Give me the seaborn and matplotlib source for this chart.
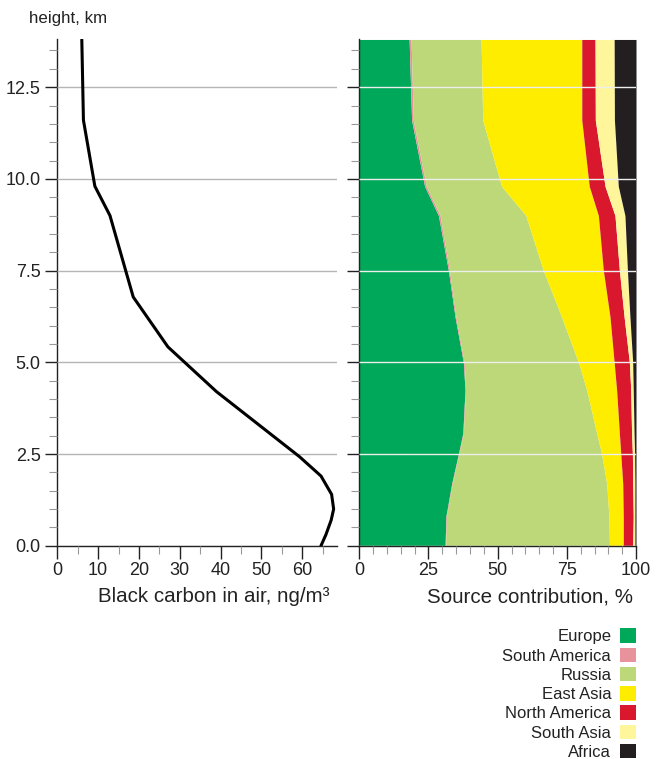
"""Black carbon vertical profile and source contributions by height."""

import matplotlib.pyplot as plt
import numpy as np
import pandas as pd
import seaborn as sns
from matplotlib.patches import Patch
from matplotlib.ticker import MultipleLocator

# Black carbon profile (left panel)
BC_HEIGHT = [0.0, 0.3, 0.7, 1.0, 1.4, 1.9, 2.43, 4.2, 5.42, 6.78, 9.0, 9.8,
             11.6, 13.8]
BC_VALUE = [64.6, 65.8, 67.1, 67.7, 67.2, 64.6, 59.3, 39.0, 27.1, 18.6, 12.9,
            9.2, 6.4, 6.0]

# Source contributions, % (right panel)
SRC_HEIGHT = [0.0, 0.8, 1.7, 2.5, 3.06, 4.24, 5.0, 6.24, 7.5, 9.0, 9.8, 11.6, 13.8]
EUROPE = [31.0, 31.3, 33.4, 35.8, 37.4, 38.2, 37.6, 34.6, 32.2, 28.6, 23.6, 18.9, 18.0]
SOUTH_AMERICA = [0.2, 0.2, 0.2, 0.2, 0.2, 0.2, 0.3, 0.3, 0.4, 0.6, 0.6, 0.6, 0.7]
RUSSIA = [59.2, 58.7, 55.8, 51.6, 48.2, 43.8, 41.3, 38.2, 33.9, 31.0, 27.2, 25.1, 25.3]
EAST_ASIA = [5.0, 5.2, 5.8, 6.9, 8.2, 10.8, 12.9, 17.5, 21.7, 26.2, 31.7, 35.8, 36.4]
NORTH_AMERICA = [3.4, 3.6, 3.6, 4.2, 4.4, 5.1, 5.5, 5.1, 5.8, 6.0, 5.7, 4.9, 4.8]
SOUTH_ASIA = [0.8, 0.6, 0.8, 0.8, 0.9, 0.9, 1.2, 2.1, 2.9, 3.6, 4.8, 6.9, 6.9]
AFRICA = [0.4, 0.4, 0.4, 0.5, 0.7, 1.0, 1.2, 2.2, 3.1, 4.0, 6.4, 7.8, 7.9]

SOURCES = ["Europe", "South America", "Russia", "East Asia",
           "North America", "South Asia", "Africa"]
COLORS = {
    "Europe": "#00a859",
    "South America": "#e8939b",
    "Russia": "#bcd878",
    "East Asia": "#ffed00",
    "North America": "#d9182d",
    "South Asia": "#fff59a",
    "Africa": "#231f20",
}

sns.set_style("ticks")
plt.rcParams["font.family"] = ["Liberation Sans", "DejaVu Sans"]

fig = plt.figure(figsize=(6.61, 7.59), dpi=100)
ax1 = fig.add_axes([0.0867, 0.281, 0.423, 0.667])
ax2 = fig.add_axes([0.5436, 0.281, 0.4186, 0.667])

profile = pd.DataFrame({"height": BC_HEIGHT, "bc": BC_VALUE})
sns.lineplot(data=profile, x="bc", y="height", orient="y", sort=False,
             color="black", linewidth=2.2, ax=ax1, zorder=3)
ax1.set_xlim(0, 68.5)
ax1.xaxis.set_major_locator(MultipleLocator(10))
ax1.xaxis.set_minor_locator(MultipleLocator(5))

shares = pd.DataFrame({
    "Europe": EUROPE,
    "South America": SOUTH_AMERICA,
    "Russia": RUSSIA,
    "East Asia": EAST_ASIA,
    "North America": NORTH_AMERICA,
    "South Asia": SOUTH_ASIA,
    "Africa": AFRICA,
}, index=SRC_HEIGHT)
cum = shares[SOURCES].cumsum(axis=1)
left = np.zeros(len(SRC_HEIGHT))
for src in SOURCES:
    right = cum[src].to_numpy()
    ax2.fill_betweenx(SRC_HEIGHT, left, right, color=COLORS[src],
                      linewidth=0, zorder=1)
    left = right
ax2.set_xlim(0, 100)
ax2.xaxis.set_major_locator(MultipleLocator(25))
ax2.xaxis.set_minor_locator(MultipleLocator(5))

for ax, gcol in ((ax1, "#b5b5b5"), (ax2, "#eeeeee")):
    ax.set_ylim(0, 13.8)
    ax.yaxis.set_major_locator(MultipleLocator(2.5))
    ax.yaxis.set_minor_locator(MultipleLocator(0.5))
    ax.grid(axis="y", which="major", color=gcol, linewidth=1.0, zorder=2)
    ax.set_axisbelow(False)
    sns.despine(ax=ax)
    for side in ("left", "bottom"):
        ax.spines[side].set_color("#222222")
        ax.spines[side].set_linewidth(1.0)
    ax.tick_params(which="major", length=9, width=1.0, color="#222222",
                   labelsize=13, labelcolor="#222222", pad=3)
    ax.tick_params(which="minor", length=6, width=0.8, color="#999999")
    ax.set_xlabel("")
    ax.set_ylabel("")

ax2.tick_params(axis="y", which="both", labelleft=False)

ax1.set_xlabel("Black carbon in air, ng/m³", fontsize=14.8,
               color="#222222", ha="right", va="top")
ax1.xaxis.set_label_coords(0.972, -0.082)
ax2.set_xlabel("Source contribution, %", fontsize=14.8,
               color="#222222", ha="right", va="top")
ax2.xaxis.set_label_coords(0.99, -0.082)
fig.text(0.044, 0.976, "height, km", fontsize=12.2, color="#222222",
         ha="left", va="center")

handles = [Patch(facecolor=COLORS[s], edgecolor="none") for s in SOURCES]
fig.legend(handles, SOURCES, loc="upper right", bbox_to_anchor=(0.975, 0.183),
           frameon=False, markerfirst=False, fontsize=12, labelcolor="#222222",
           handlelength=0.95, handleheight=0.95, handletextpad=0.55,
           labelspacing=0.2, borderpad=0)

fig.savefig("out.png", dpi=100)
